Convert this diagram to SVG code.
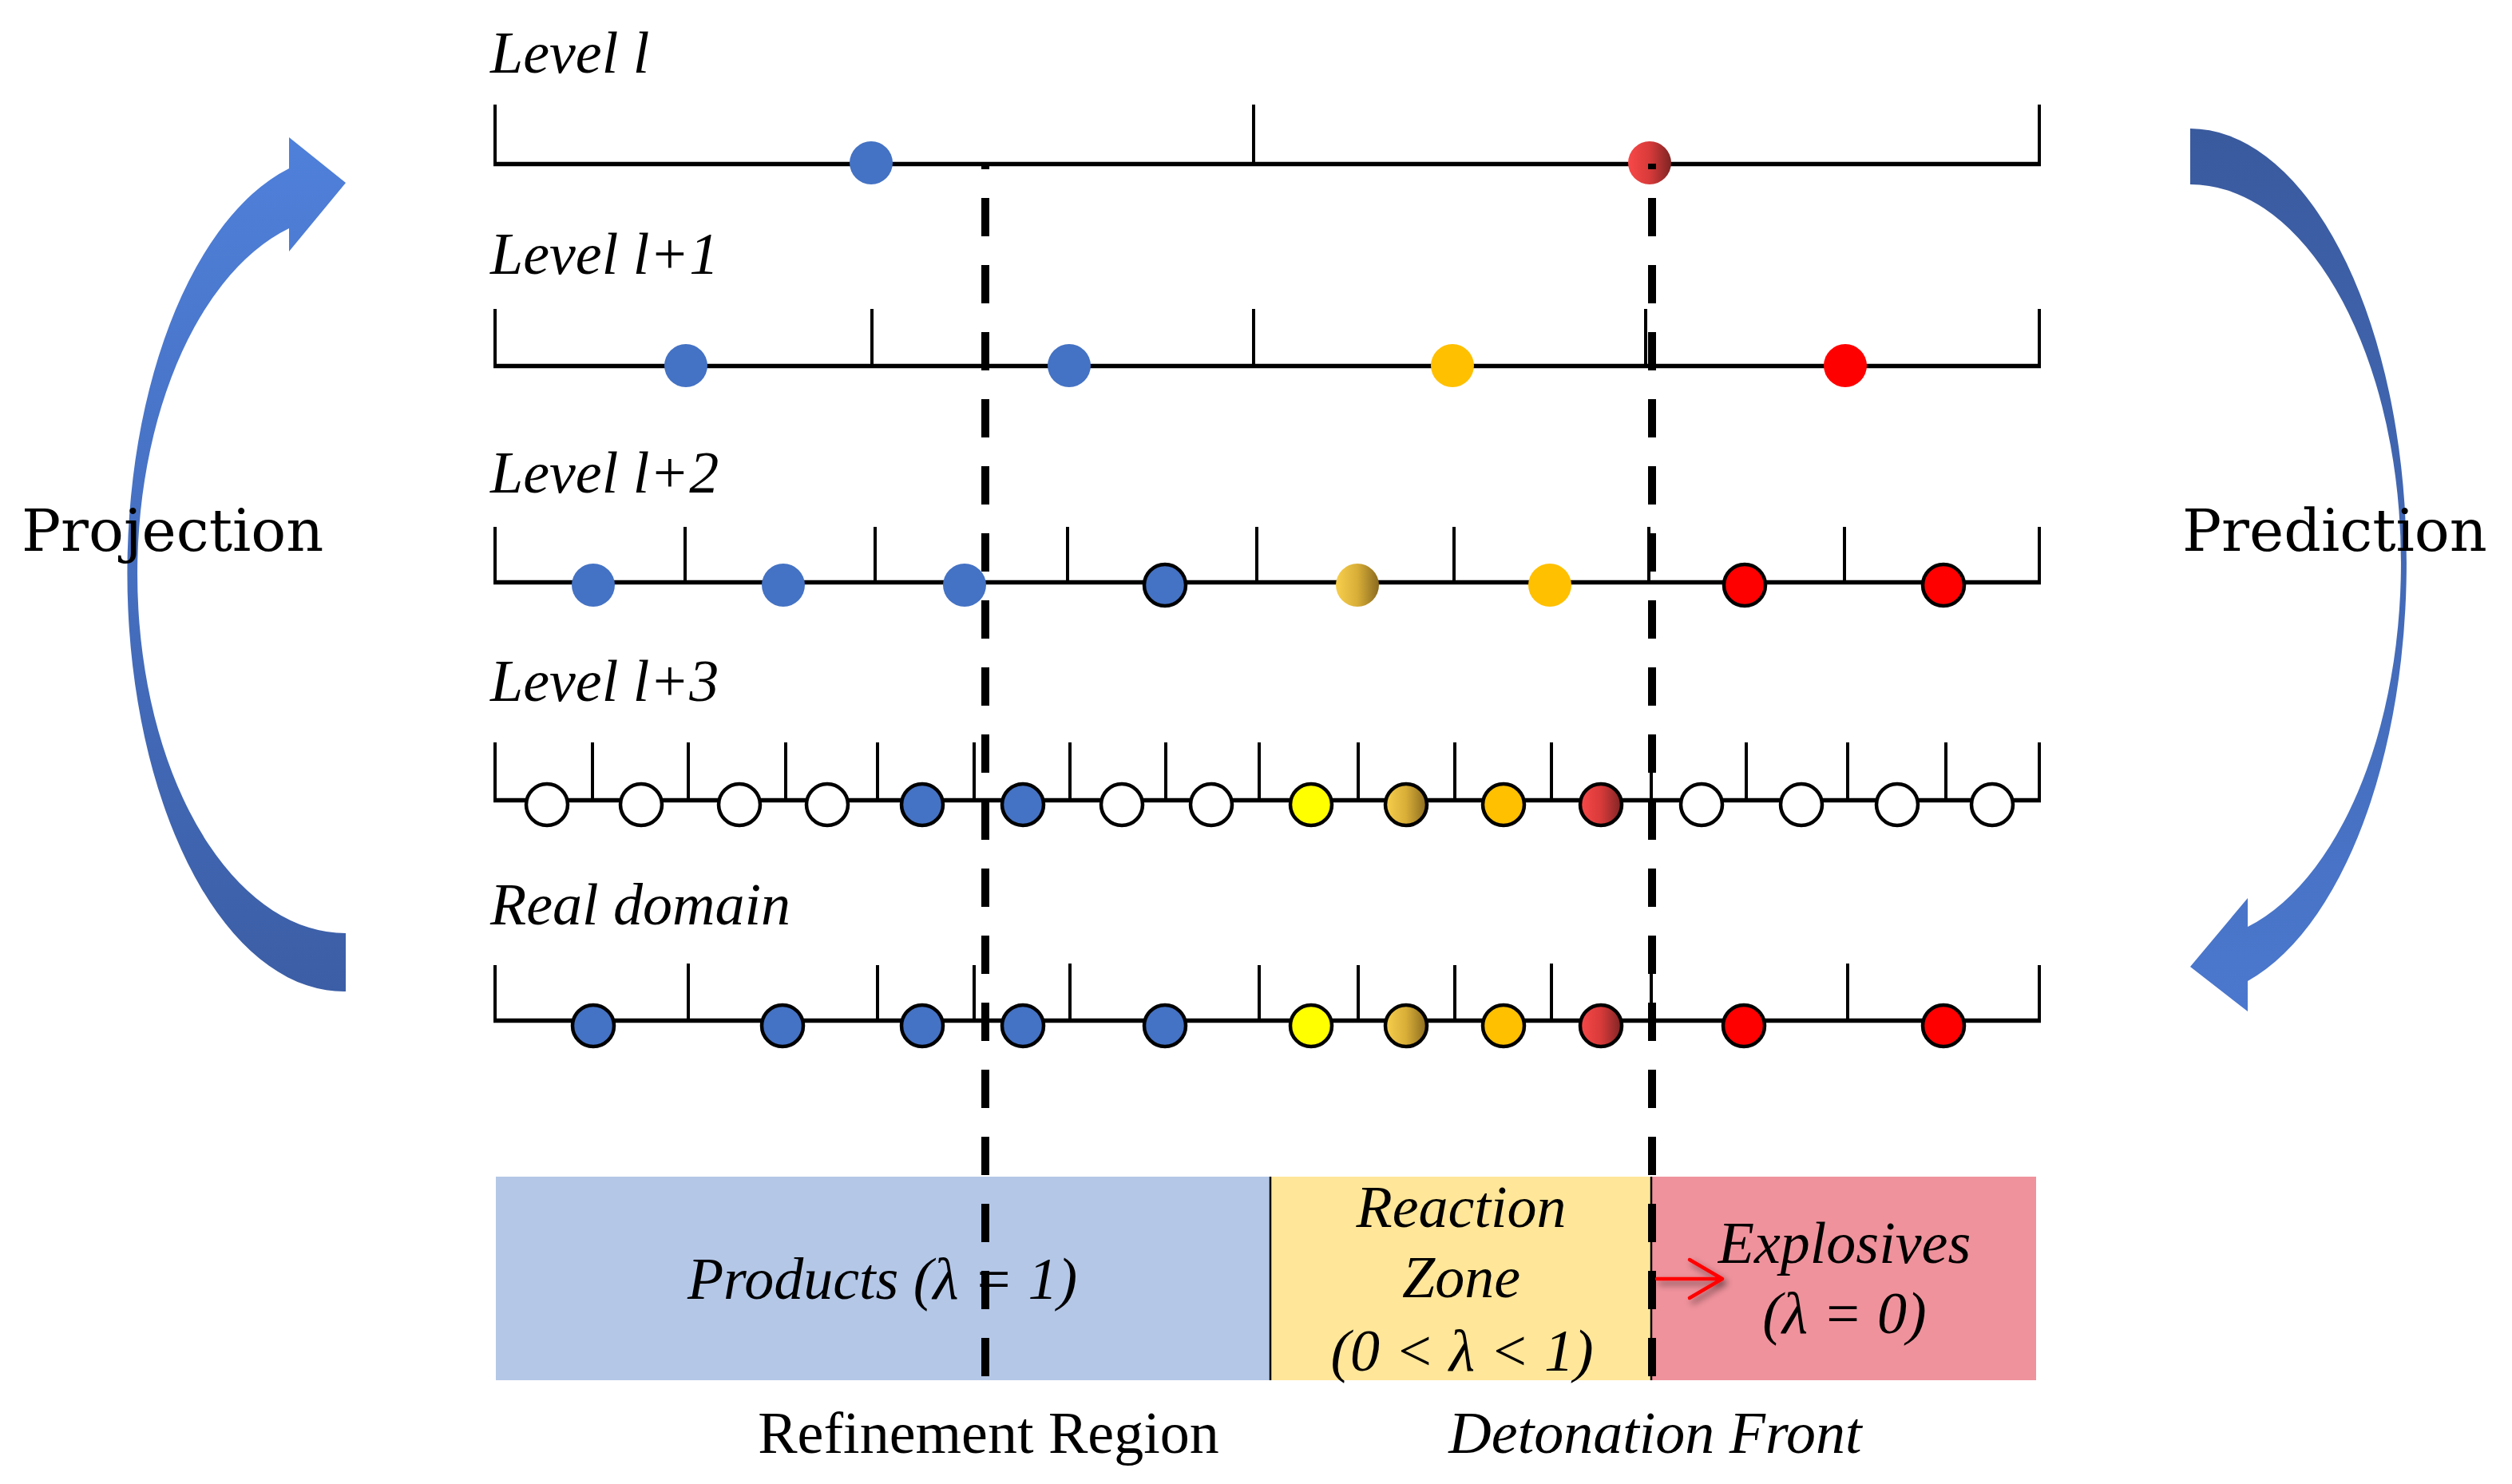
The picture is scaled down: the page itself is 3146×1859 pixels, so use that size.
<svg xmlns="http://www.w3.org/2000/svg" width="3146" height="1859" viewBox="0 0 3146 1859">
<style>
.axis{stroke:#000;stroke-width:5.5;fill:none}
.tick{stroke:#000;stroke-width:4;fill:none}
.lbl{font-family:"Liberation Serif",serif;font-style:italic;font-size:74px;fill:#000}
.up{font-family:"Liberation Serif",serif;font-size:74px;fill:#000}
.side{font-family:"DejaVu Serif",serif;font-size:73px;fill:#000}
.s{stroke:#000;stroke-width:4.5}
.b{fill:#4472C4}.w{fill:#fff}.y{fill:#FFFF00}.o{fill:#FFC000}.r{fill:#FF0000}
.rg{fill:url(#redg)}.gg{fill:url(#goldg)}
.dash{stroke:#000;stroke-width:10;stroke-dasharray:48 36;stroke-dashoffset:41;fill:none}
</style>
<defs>
<linearGradient id="redg" x1="0" y1="0" x2="1" y2="0"><stop offset="0" stop-color="#F84848"/><stop offset="0.5" stop-color="#D83A3A"/><stop offset="1" stop-color="#7E2424"/></linearGradient>
<linearGradient id="goldg" x1="0" y1="0" x2="1" y2="0"><stop offset="0" stop-color="#F8CF4C"/><stop offset="0.5" stop-color="#D8AE38"/><stop offset="1" stop-color="#8A6A1E"/></linearGradient>
<linearGradient id="projg" x1="0" y1="0" x2="0" y2="1"><stop offset="0" stop-color="#4F80DA"/><stop offset="1" stop-color="#3C5EA6"/></linearGradient>
<linearGradient id="predg" x1="0" y1="0" x2="0" y2="1"><stop offset="0" stop-color="#3A5A9E"/><stop offset="1" stop-color="#4B78CE"/></linearGradient>
<filter id="sh" x="-30%" y="-60%" width="160%" height="220%"><feGaussianBlur in="SourceAlpha" stdDeviation="4"/><feOffset dx="4" dy="5"/><feComponentTransfer><feFuncA type="linear" slope="0.5"/></feComponentTransfer><feMerge><feMergeNode/><feMergeNode in="SourceGraphic"/></feMerge></filter>
</defs>
<rect width="3146" height="1859" fill="#fff"/>

<g id="regions">
<rect x="621" y="1474" width="970" height="255" fill="#B4C7E7"/>
<rect x="1591" y="1474" width="477" height="255" fill="#FFE699"/>
<rect x="2068" y="1474" width="482" height="255" fill="#EF929C"/>
<line x1="1591" y1="1474" x2="1591" y2="1729" stroke="#000" stroke-width="2.5"/>
<line x1="2068" y1="1474" x2="2068" y2="1729" stroke="#000" stroke-width="2.5"/>
<text class="lbl" x="1105" y="1627" text-anchor="middle">Products (λ = 1)</text>
<text class="lbl" x="1830" y="1537" text-anchor="middle">Reaction</text>
<text class="lbl" x="1830" y="1625" text-anchor="middle">Zone</text>
<text class="lbl" x="1831" y="1717" text-anchor="middle">(0 &lt; λ &lt; 1)</text>
<text class="lbl" x="2310" y="1582" text-anchor="middle">Explosives</text>
<text class="lbl" x="2310" y="1670" text-anchor="middle">(λ = 0)</text>
</g>

<g id="level-l">
<text class="lbl" x="614" y="91">Level l</text>
<line class="axis" x1="618" y1="205.5" x2="2556" y2="205.5"/>
<path class="tick" d="M620 131V206M1570 131V206M2554 131V206"/>
<circle class="b" cx="1091" cy="204" r="27"/>
<circle class="rg" cx="2066" cy="204" r="27"/>
</g>

<g id="level-l1">
<text class="lbl" x="614" y="343">Level l+1</text>
<line class="axis" x1="618" y1="458.5" x2="2556" y2="458.5"/>
<path class="tick" d="M620 387V459M1092 387V459M1570 387V459M2061 387V459M2554 387V459"/>
<circle class="b" cx="859" cy="458" r="27"/>
<circle class="b" cx="1339" cy="458" r="27"/>
<circle class="o" cx="1819" cy="458" r="27"/>
<circle class="r" cx="2311" cy="458" r="27"/>
</g>

<g id="level-l2">
<text class="lbl" x="614" y="617">Level l+2</text>
<line class="axis" x1="618" y1="729.5" x2="2556" y2="729.5"/>
<path class="tick" d="M620 660V730M858 660V730M1096 660V730M1337 660V730M1574 660V730M1821 660V730M2065 660V730M2310 660V730M2554 660V730"/>
<circle class="b" cx="743" cy="733" r="27"/>
<circle class="b" cx="981" cy="733" r="27"/>
<circle class="b" cx="1208" cy="733" r="27"/>
<circle class="b s" cx="1459" cy="733" r="26"/>
<circle class="gg" cx="1700" cy="733" r="27"/>
<circle class="o" cx="1941" cy="733" r="27"/>
<circle class="r s" cx="2185" cy="733" r="26"/>
<circle class="r s" cx="2434" cy="733" r="26"/>
</g>

<g id="level-l3">
<text class="lbl" x="614" y="878">Level l+3</text>
<line class="axis" x1="618" y1="1002.5" x2="2556" y2="1002.5"/>
<path class="tick" d="M620 930V1003M742 930V1003M862 930V1003M984 930V1003M1099 930V1003M1220 930V1003M1340 930V1003M1460 930V1003M1577 930V1003M1701 930V1003M1822 930V1003M1943 930V1003M2068 930V1003M2187 930V1003M2314 930V1003M2437 930V1003M2554 930V1003"/>
<circle class="w s" cx="685" cy="1008" r="26"/>
<circle class="w s" cx="803" cy="1008" r="26"/>
<circle class="w s" cx="926" cy="1008" r="26"/>
<circle class="w s" cx="1036" cy="1008" r="26"/>
<circle class="b s" cx="1155" cy="1008" r="26"/>
<circle class="b s" cx="1281" cy="1008" r="26"/>
<circle class="w s" cx="1405" cy="1008" r="26"/>
<circle class="w s" cx="1517" cy="1008" r="26"/>
<circle class="y s" cx="1642" cy="1008" r="26"/>
<circle class="gg s" cx="1761" cy="1008" r="26"/>
<circle class="o s" cx="1883" cy="1008" r="26"/>
<circle class="rg s" cx="2005" cy="1008" r="26"/>
<circle class="w s" cx="2131" cy="1008" r="26"/>
<circle class="w s" cx="2256" cy="1008" r="26"/>
<circle class="w s" cx="2376" cy="1008" r="26"/>
<circle class="w s" cx="2495" cy="1008" r="26"/>
</g>

<g id="real-domain">
<text class="lbl" x="614" y="1158">Real domain</text>
<line class="axis" x1="618" y1="1278.5" x2="2556" y2="1278.5"/>
<path class="tick" d="M620 1209V1279M862 1207V1279M1099 1209V1279M1220 1209V1279M1340 1207V1279M1577 1209V1279M1701 1209V1279M1822 1209V1279M1943 1207V1279M2068 1209V1279M2314 1207V1279M2554 1209V1279"/>
<circle class="b s" cx="743" cy="1285" r="26"/>
<circle class="b s" cx="980" cy="1285" r="26"/>
<circle class="b s" cx="1155" cy="1285" r="26"/>
<circle class="b s" cx="1281" cy="1285" r="26"/>
<circle class="b s" cx="1459" cy="1285" r="26"/>
<circle class="y s" cx="1642" cy="1285" r="26"/>
<circle class="gg s" cx="1761" cy="1285" r="26"/>
<circle class="o s" cx="1883" cy="1285" r="26"/>
<circle class="rg s" cx="2005" cy="1285" r="26"/>
<circle class="r s" cx="2184" cy="1285" r="26"/>
<circle class="r s" cx="2434" cy="1285" r="26"/>
</g>

<g id="connectors">
<line class="dash" x1="1234" y1="205" x2="1234" y2="1726"/>
<line class="dash" x1="2069" y1="205" x2="2069" y2="1726"/>
<g filter="url(#sh)" stroke="#FF0000" stroke-width="4.5" fill="none" stroke-linecap="round" stroke-linejoin="round">
<path d="M2075 1602H2156M2116 1578L2157 1602L2116 1626"/>
</g>
<path id="projection-arrow" d="M433 1242A271 524 0 0 1 362 211L362 172L433 229L362 315L362 286A261 450 0 0 0 433 1169Z" fill="url(#projg)"/>
<path id="prediction-arrow" d="M2743 161A272 544 0 0 1 2815 1229L2815 1267L2743 1211L2815 1125L2815 1161A264 474 0 0 0 2743 231Z" fill="url(#predg)"/>
</g>

<g id="captions">
<text class="side" x="27" y="690">Projection</text>
<text class="side" x="2733" y="690">Prediction</text>
<text class="up" x="1238" y="1820" text-anchor="middle">Refinement Region</text>
<text class="lbl" x="2073" y="1820" text-anchor="middle">Detonation Front</text>
</g>
</svg>
